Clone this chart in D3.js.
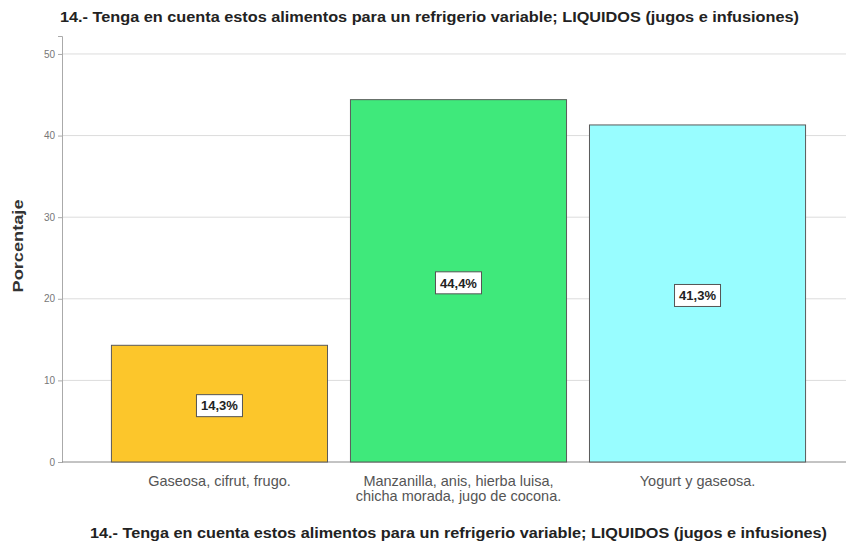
<!DOCTYPE html>
<html lang="es">
<head>
    <meta charset="UTF-8">
    <title>Refrigerio variable - LIQUIDOS</title>
    <style>
        body {
            margin: 0;
            background: #ffffff;
            font-family: 'Liberation Sans', Arial, sans-serif;
        }
    </style>
</head>
<body>
<div id="chart"></div>
<script src="https://d3js.org/d3.v7.min.js"></script>
<script>
  const categories = [
    ["Gaseosa, cifrut, frugo."],
    ["Manzanilla, anis, hierba luisa,", "chicha morada, jugo de cocona."],
    ["Yogurt y gaseosa."]
  ];
  const percentages = [14.3, 44.4, 41.3];
  const barColors = ["#fcc62b", "#3fe97b", "#98fdff"];
  const yTicks = [0, 10, 20, 30, 40, 50];
  const title = "14.- Tenga en cuenta estos alimentos para un refrigerio variable; LIQUIDOS (jugos e infusiones)";

  const width = 846, height = 543;
  const plotLeft = 62, plotRight = 846, plotTop = 36, plotBottom = 462;

  const svg = d3.select("#chart").append("svg")
    .attr("width", width)
    .attr("height", height);

  const x = d3.scaleBand()
    .domain(d3.range(categories.length))
    .range([plotLeft, plotRight])
    .paddingInner(0.096)
    .paddingOuter(0.188)
    .align(0.55);

  const y = d3.scaleLinear().domain([0, 52.2]).range([plotBottom, plotTop]);

  // gridlines
  svg.append("g").selectAll("line").data(yTicks.filter(d => d > 0)).enter()
    .append("line")
    .attr("x1", plotLeft).attr("x2", plotRight)
    .attr("y1", d => y(d)).attr("y2", d => y(d))
    .attr("stroke", "#dcdcdc").attr("stroke-width", 1);

  // y axis
  const yAxis = svg.append("g")
    .attr("transform", `translate(${plotLeft},0)`)
    .call(d3.axisLeft(y).tickValues(yTicks).tickSize(4).tickFormat(d3.format("d")));
  yAxis.select(".domain").attr("stroke", "#aaaaaa");
  yAxis.selectAll(".tick line").attr("stroke", "#aaaaaa");
  yAxis.selectAll("text")
    .attr("fill", "#777").style("font-size", "10px")
    .style("font-family", "'Liberation Sans', Arial, sans-serif");

  // baseline
  svg.append("line")
    .attr("x1", plotLeft).attr("x2", plotRight)
    .attr("y1", y(0)).attr("y2", y(0))
    .attr("stroke", "#888");

  // bars
  svg.selectAll(".bar").data(percentages).enter()
    .append("rect")
    .attr("class", "bar")
    .attr("x", (d, i) => x(i))
    .attr("y", d => y(d))
    .attr("width", x.bandwidth())
    .attr("height", d => y(0) - y(d))
    .attr("fill", (d, i) => barColors[i])
    .attr("stroke", "#5a5a5a")
    .attr("stroke-width", 1);

  // value labels
  const labels = svg.selectAll(".val").data(percentages).enter()
    .append("g")
    .attr("class", "val")
    .attr("transform", (d, i) => `translate(${x(i) + x.bandwidth() / 2},${(y(d) + y(0)) / 2 + 2})`);
  labels.append("rect")
    .attr("x", -23).attr("y", -11)
    .attr("width", 46).attr("height", 22)
    .attr("fill", "#fff").attr("stroke", "#555");
  labels.append("text")
    .attr("text-anchor", "middle")
    .attr("dy", "0.36em")
    .style("font-size", "13px").style("font-weight", "bold")
    .attr("fill", "#222")
    .text(d => d.toFixed(1).replace(".", ",") + "%");

  // category labels
  const catText = svg.selectAll(".cat").data(categories).enter()
    .append("text")
    .attr("class", "cat")
    .attr("text-anchor", "middle")
    .attr("fill", "#555")
    .style("font-size", "14.5px")
    .attr("transform", (d, i) => `translate(${x(i) + x.bandwidth() / 2},${plotBottom + 24})`);
  catText.selectAll("tspan").data(d => d).enter()
    .append("tspan")
    .attr("x", 0)
    .attr("dy", (d, i) => i === 0 ? 0 : 15)
    .text(d => d);

  // titles
  svg.append("text")
    .attr("x", 60).attr("y", 22)
    .attr("textLength", 739).attr("lengthAdjust", "spacingAndGlyphs")
    .style("font-size", "14px").style("font-weight", "bold")
    .attr("fill", "#222")
    .text(title);

  svg.append("text")
    .attr("x", 90).attr("y", 538)
    .attr("textLength", 737).attr("lengthAdjust", "spacingAndGlyphs")
    .style("font-size", "14px").style("font-weight", "bold")
    .attr("fill", "#222")
    .text(title);

  svg.append("text")
    .attr("transform", `translate(23,${(plotTop + plotBottom) / 2 - 3}) rotate(-90)`)
    .attr("text-anchor", "middle")
    .attr("textLength", 93).attr("lengthAdjust", "spacingAndGlyphs")
    .style("font-size", "15px").style("font-weight", "bold")
    .attr("fill", "#333")
    .text("Porcentaje");
</script>
</body>
</html>
